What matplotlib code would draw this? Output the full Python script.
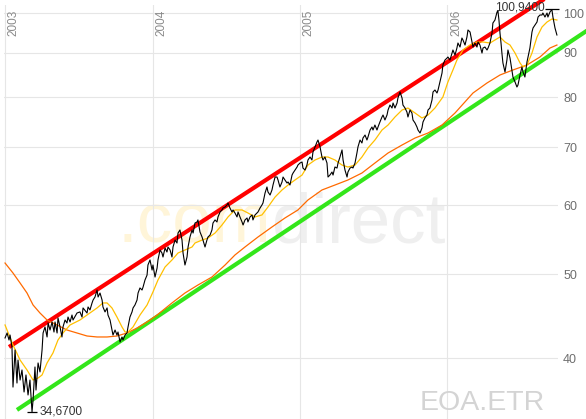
import matplotlib
matplotlib.use("Agg")
import matplotlib.pyplot as plt
from matplotlib.ticker import NullLocator, NullFormatter

plt.rcParams['font.family'] = ['Liberation Sans', 'DejaVu Sans']

# EOA.ETR closing prices (decimal year, EUR)
t_2003 = [2003.000, 2003.014, 2003.027, 2003.034, 2003.047, 2003.054, 2003.068, 2003.081, 2003.088, 2003.102,
          2003.115, 2003.129, 2003.142, 2003.156, 2003.169, 2003.183, 2003.190, 2003.203, 2003.210, 2003.224,
          2003.237, 2003.251, 2003.258, 2003.271, 2003.285, 2003.292, 2003.305, 2003.319, 2003.332, 2003.339,
          2003.353, 2003.359, 2003.373, 2003.386, 2003.393, 2003.407, 2003.420, 2003.427, 2003.441, 2003.454,
          2003.461, 2003.488, 2003.508, 2003.522, 2003.529, 2003.556, 2003.563, 2003.576, 2003.590, 2003.597,
          2003.610, 2003.624, 2003.631, 2003.644, 2003.658, 2003.664, 2003.678, 2003.692, 2003.698, 2003.712,
          2003.725, 2003.732, 2003.746, 2003.759, 2003.766, 2003.780, 2003.793, 2003.800, 2003.814, 2003.827,
          2003.834, 2003.847, 2003.861, 2003.868, 2003.881, 2003.895, 2003.902, 2003.915, 2003.929, 2003.936,
          2003.949, 2003.963, 2003.969, 2003.983, 2003.997, 2004.003, 2004.017]
p_2003 = [42.19, 42.75, 41.96, 42.52, 41.19, 37.03, 40.86, 37.43, 39.79, 37.73,
          38.75, 36.55, 38.24, 36.26, 37.73, 34.67, 35.78, 39.06, 36.74, 39.48,
          38.55, 40.86, 42.75, 43.44, 42.30, 43.90, 43.09, 44.02, 42.86, 44.02,
          42.75, 44.49, 43.44, 42.30, 43.44, 44.25, 43.90, 44.60, 44.02, 44.84,
          44.25, 45.08, 45.21, 44.60, 45.69, 45.08, 45.81, 45.45, 46.30, 46.66,
          47.04, 47.92, 47.04, 47.54, 46.66, 45.81, 45.21, 45.69, 44.84, 44.25,
          43.09, 42.52, 43.09, 42.52, 42.86, 41.74, 42.30, 41.96, 42.52, 42.75,
          43.44, 44.60, 45.21, 45.69, 46.05, 46.66, 47.54, 48.18, 47.92, 48.30,
          49.21, 49.86, 51.21, 51.90, 50.53, 51.21, 49.60]

t_2004 = [2004.031, 2004.037, 2004.051, 2004.064, 2004.071, 2004.085, 2004.098, 2004.105, 2004.119, 2004.132,
          2004.139, 2004.153, 2004.166, 2004.173, 2004.186, 2004.200, 2004.207, 2004.220, 2004.234, 2004.241,
          2004.254, 2004.268, 2004.275, 2004.288, 2004.302, 2004.308, 2004.322, 2004.336, 2004.342, 2004.356,
          2004.369, 2004.376, 2004.390, 2004.403, 2004.410, 2004.424, 2004.437, 2004.444, 2004.458, 2004.471,
          2004.478, 2004.492, 2004.505, 2004.512, 2004.525, 2004.539, 2004.546, 2004.559, 2004.573, 2004.580,
          2004.593, 2004.607, 2004.614, 2004.627, 2004.641, 2004.647, 2004.661, 2004.675, 2004.681, 2004.695,
          2004.708, 2004.715, 2004.729, 2004.742, 2004.749, 2004.763, 2004.776, 2004.783, 2004.797, 2004.810,
          2004.817, 2004.831, 2004.844, 2004.851, 2004.864, 2004.878, 2004.885, 2004.898, 2004.912, 2004.919,
          2004.932, 2004.946, 2004.953, 2004.966, 2004.980, 2004.986, 2005.000]
p_2004 = [50.80, 51.90, 53.29, 52.87, 52.31, 53.57, 53.01, 53.72, 53.29, 52.31,
          53.72, 54.72, 54.29, 55.75, 56.20, 54.72, 52.87, 51.21, 52.31, 53.72,
          55.16, 56.20, 55.75, 57.25, 57.41, 57.72, 55.90, 55.16, 54.72, 53.72,
          54.72, 55.16, 55.45, 56.20, 57.25, 57.72, 57.41, 58.18, 58.95, 59.27,
          59.58, 59.74, 60.06, 60.38, 59.58, 58.95, 59.27, 58.80, 58.18, 58.95,
          58.18, 57.41, 56.95, 57.72, 58.02, 57.41, 58.18, 58.49, 57.72, 58.49,
          58.80, 58.95, 59.58, 60.06, 60.38, 62.00, 63.00, 62.17, 61.67, 62.50,
          63.33, 64.69, 64.69, 64.18, 63.00, 63.84, 64.69, 64.18, 63.67, 63.84,
          63.33, 65.03, 65.38, 65.90, 66.43, 66.78, 67.14]

t_2005 = [2005.014, 2005.020, 2005.034, 2005.047, 2005.054, 2005.068, 2005.081, 2005.088, 2005.102, 2005.115,
          2005.122, 2005.136, 2005.149, 2005.156, 2005.169, 2005.183, 2005.190, 2005.203, 2005.217, 2005.224,
          2005.237, 2005.251, 2005.258, 2005.271, 2005.285, 2005.292, 2005.305, 2005.319, 2005.325, 2005.339,
          2005.353, 2005.359, 2005.373, 2005.386, 2005.393, 2005.407, 2005.420, 2005.427, 2005.441, 2005.454,
          2005.461, 2005.475, 2005.488, 2005.495, 2005.508, 2005.522, 2005.529, 2005.542, 2005.556, 2005.563,
          2005.576, 2005.590, 2005.597, 2005.610, 2005.624, 2005.631, 2005.644, 2005.658, 2005.664, 2005.678,
          2005.692, 2005.698, 2005.712, 2005.725, 2005.732, 2005.746, 2005.759, 2005.766, 2005.780, 2005.793,
          2005.800, 2005.814, 2005.827, 2005.834, 2005.847, 2005.861, 2005.868, 2005.881, 2005.895, 2005.902,
          2005.915, 2005.929, 2005.936, 2005.949, 2005.963, 2005.969, 2005.983]
p_2005 = [67.32, 66.25, 65.90, 66.78, 67.68, 68.22, 67.68, 69.14, 70.06, 70.99,
          71.37, 70.06, 68.22, 67.68, 68.22, 67.14, 64.69, 65.03, 65.55, 65.03,
          66.43, 66.25, 67.14, 68.22, 69.51, 67.68, 65.90, 64.69, 65.55, 66.25,
          66.43, 66.25, 67.14, 68.95, 70.06, 71.37, 70.81, 71.75, 72.32, 71.37,
          71.94, 73.29, 73.88, 73.29, 74.27, 73.29, 73.88, 74.87, 75.87, 76.27,
          75.27, 76.27, 77.29, 78.32, 77.70, 78.74, 77.70, 78.74, 79.79, 81.08,
          79.79, 78.32, 77.70, 76.88, 75.87, 77.29, 76.68, 75.27, 74.67, 73.88,
          73.29, 72.71, 73.69, 74.87, 75.67, 76.27, 77.29, 77.70, 79.37, 81.08,
          81.51, 80.86, 81.51, 83.26, 85.27, 87.11, 88.26]

t_2006 = [2005.997, 2006.003, 2006.017, 2006.031, 2006.037, 2006.051, 2006.064, 2006.071, 2006.085, 2006.098,
          2006.105, 2006.119, 2006.132, 2006.139, 2006.153, 2006.166, 2006.173, 2006.186, 2006.200, 2006.207,
          2006.220, 2006.234, 2006.241, 2006.254, 2006.268, 2006.275, 2006.288, 2006.302, 2006.308, 2006.322,
          2006.336, 2006.342, 2006.349, 2006.356, 2006.363, 2006.369, 2006.376, 2006.390, 2006.403, 2006.410,
          2006.424, 2006.437, 2006.444, 2006.458, 2006.471, 2006.478, 2006.492, 2006.505, 2006.512, 2006.525,
          2006.539, 2006.546, 2006.559, 2006.573, 2006.580, 2006.593, 2006.607, 2006.614, 2006.627, 2006.641,
          2006.647, 2006.661, 2006.675, 2006.681, 2006.695, 2006.708, 2006.715, 2006.729, 2006.742]
p_2006 = [88.73, 88.97, 88.26, 89.92, 90.64, 89.44, 91.12, 92.34, 91.36, 93.58,
          93.08, 91.85, 93.83, 95.59, 95.08, 92.59, 91.36, 92.34, 91.36, 92.59,
          91.85, 89.92, 91.12, 91.36, 90.64, 91.12, 92.34, 94.83, 97.38, 98.16,
          100.27, 100.55, 98.16, 94.83, 92.34, 89.92, 87.57, 85.50, 88.26, 90.64,
          88.73, 85.96, 84.37, 83.26, 82.16, 82.60, 84.82, 86.64, 85.50, 84.37,
          87.80, 88.97, 91.12, 95.08, 96.10, 96.86, 97.64, 98.94, 99.47, 99.47,
          100.00, 98.94, 100.00, 98.94, 100.27, 100.94, 98.94, 96.10, 94.33]

# 38-day moving average
ma38_t = [2003.000, 2003.054, 2003.102, 2003.149, 2003.190, 2003.224, 2003.251, 2003.285, 2003.325, 2003.359,
          2003.393, 2003.441, 2003.508, 2003.556, 2003.624, 2003.664, 2003.692, 2003.725, 2003.759, 2003.793,
          2003.814, 2003.834, 2003.868, 2003.915, 2003.963, 2004.003, 2004.037, 2004.085, 2004.132, 2004.173,
          2004.220, 2004.268, 2004.288, 2004.336, 2004.376, 2004.424, 2004.471, 2004.512, 2004.559, 2004.607,
          2004.647, 2004.695, 2004.742, 2004.783, 2004.831, 2004.878, 2004.919, 2004.966, 2005.014, 2005.054,
          2005.102, 2005.149, 2005.190, 2005.237, 2005.285, 2005.325, 2005.373, 2005.420, 2005.461, 2005.508,
          2005.556, 2005.597, 2005.644, 2005.692, 2005.732, 2005.780, 2005.827, 2005.868, 2005.915, 2005.969,
          2006.003, 2006.037, 2006.064, 2006.105, 2006.153, 2006.200, 2006.241, 2006.288, 2006.322, 2006.356,
          2006.390, 2006.424, 2006.458, 2006.492, 2006.512, 2006.539, 2006.573, 2006.607, 2006.641, 2006.675,
          2006.708, 2006.742]
ma38 = [43.67, 41.41, 39.79, 38.75, 37.73, 37.93, 38.24, 39.48, 40.54, 41.96,
        42.75, 43.67, 44.25, 44.84, 45.69, 46.30, 46.30, 45.69, 44.60, 43.44,
        42.86, 42.86, 43.44, 44.84, 46.05, 47.67, 49.21, 50.94, 51.90, 52.87,
        53.29, 53.72, 54.29, 54.72, 55.01, 55.75, 56.95, 58.18, 59.27, 59.27,
        58.80, 58.18, 58.49, 59.74, 61.34, 62.50, 63.33, 64.18, 65.03, 66.78,
        67.68, 68.22, 68.22, 67.68, 66.78, 66.43, 66.78, 68.22, 69.88, 71.37,
        73.29, 74.27, 75.87, 77.29, 77.70, 76.68, 75.67, 76.27, 77.70, 80.01,
        83.26, 85.96, 88.26, 90.64, 91.85, 92.59, 92.59, 92.34, 93.08, 93.83,
        92.59, 91.85, 89.92, 87.57, 86.64, 87.11, 89.92, 93.83, 96.35, 97.64,
        98.42, 98.16]

# 200-day moving average
ma200_t = [2003.000, 2003.054, 2003.102, 2003.149, 2003.190, 2003.237, 2003.285, 2003.353, 2003.420, 2003.488,
           2003.556, 2003.624, 2003.692, 2003.759, 2003.827, 2003.895, 2003.963, 2004.031, 2004.132, 2004.220,
           2004.308, 2004.403, 2004.492, 2004.559, 2004.627, 2004.715, 2004.810, 2004.898, 2004.986, 2005.054,
           2005.149, 2005.237, 2005.325, 2005.420, 2005.508, 2005.597, 2005.692, 2005.780, 2005.868, 2005.963,
           2006.051, 2006.173, 2006.268, 2006.356, 2006.444, 2006.539, 2006.627, 2006.695, 2006.742]
ma200 = [51.48, 50.13, 48.82, 47.54, 46.05, 45.08, 44.25, 43.67, 43.09, 42.75,
         42.41, 42.30, 42.30, 42.41, 42.75, 43.32, 44.02, 44.84, 46.30, 47.54,
         48.56, 49.60, 51.21, 52.59, 53.72, 55.16, 56.65, 58.02, 59.27, 60.86,
         62.50, 63.33, 64.18, 65.38, 67.14, 68.95, 70.43, 71.75, 72.71, 74.27,
         76.68, 80.86, 83.04, 84.82, 85.96, 87.11, 88.97, 91.12, 91.85]

# trend channel
upper_t = [2003.027, 2006.763]
upper = [41.19, 106.64]
lower_t = [2003.081, 2006.946]
lower = [34.85, 95.43]

low_t, low_val = 2003.183, 34.67
high_t, high_val = 2006.708, 100.94

years = [2003, 2004, 2005, 2006]
yticks = [40, 50, 60, 70, 80, 90, 100]

price_t = t_2003 + t_2004 + t_2005 + t_2006
price = p_2003 + p_2004 + p_2005 + p_2006

W, H = 586, 419
fig = plt.figure(figsize=(W / 100, H / 100), dpi=100)
ax = fig.add_axes([4 / W, 0, 553.5 / W, 414 / H])
ax.set_yscale('log')
ax.set_xlim(2002.993, 2006.746)
ax.set_ylim(34.02, 102.15)

for s in ax.spines.values():
    s.set_visible(False)
ax.set_axisbelow(True)
ax.grid(True, color='#e6e6e6', lw=0.8)
ax.set_xticks(years)
ax.tick_params(axis='x', length=0, labelbottom=False)
ax.yaxis.tick_right()
ax.set_yticks(yticks)
ax.set_yticklabels([str(v) for v in yticks])
ax.yaxis.set_minor_locator(NullLocator())
ax.yaxis.set_minor_formatter(NullFormatter())
ax.tick_params(axis='y', length=0, pad=4, labelsize=9, labelcolor='#6e6e6e')

# watermark
wm = ax.text(118 / W, 1 - 242 / H, '.com', transform=fig.transFigure, fontsize=51,
             color='#fff5d9', ha='left', va='baseline', zorder=0.2)
fig.canvas.draw()
bb = wm.get_window_extent(fig.canvas.get_renderer())
ax.text(bb.x1 / W, 1 - 242 / H, 'direct', transform=fig.transFigure, fontsize=51,
        color='#efefef', ha='left', va='baseline', zorder=0.2)

ax.text(545 / W, 1 - 410 / H, 'EOA.ETR', transform=fig.transFigure, fontsize=20.5,
        color='#d4d4d4', ha='right', va='baseline', zorder=0.6)

for y in years:
    ax.annotate(str(y), xy=(y, 1), xycoords=('data', 'axes fraction'), xytext=(1.8, -3.6),
                textcoords='offset points', rotation=90, ha='left', va='top',
                fontsize=8.5, color='#8a8a8a')

ax.plot(upper_t, upper, color='#ff0000', lw=3, solid_capstyle='butt', clip_on=False, zorder=2)
ax.plot(lower_t, lower, color='#33e61a', lw=3, solid_capstyle='butt', clip_on=False, zorder=2)
ax.plot(ma200_t, ma200, color='#ff6a00', lw=0.9, zorder=3)
ax.plot(ma38_t, ma38, color='#ffc000', lw=0.9, zorder=4)
ax.plot(price_t, price, color='black', lw=0.8, zorder=5)

ax.plot([low_t], [low_val], marker='_', ms=7, mew=0.9, color='black', zorder=6)
ax.annotate('34,6700', xy=(low_t, low_val), xytext=(5.5, 0), textcoords='offset points',
            ha='left', va='center', fontsize=8.6, color='#333333')
ax.plot([high_t], [high_val], marker='_', ms=10, mew=0.9, color='black', zorder=6, clip_on=False)
ax.annotate('100,9400', xy=(high_t, high_val), xytext=(-5, 1.5), textcoords='offset points',
            ha='right', va='center', fontsize=8.6, color='#333333', annotation_clip=False)

fig.savefig('out.png', dpi=100)
